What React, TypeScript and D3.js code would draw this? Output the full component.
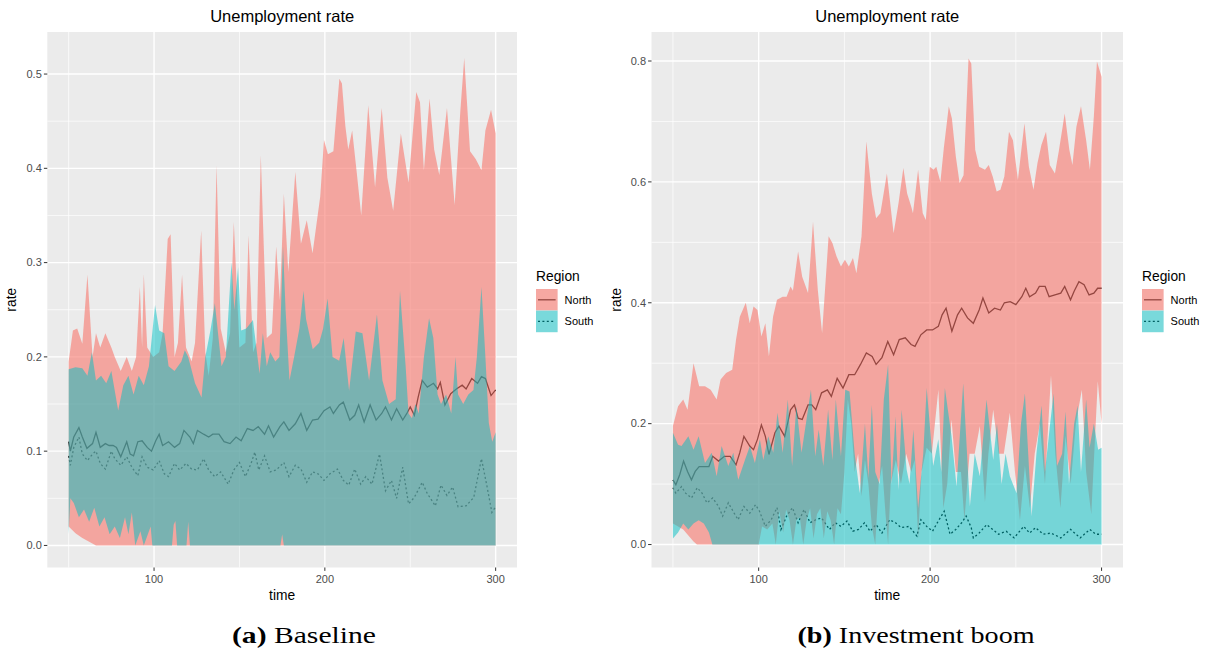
import * as d3 from 'd3'

type Pt = [number, number]

// axis ticks
const timeTicks = [100, 200, 300]
const timeMinor = [50, 150, 250]
const baseRateTicks = [0, 0.1, 0.2, 0.3, 0.4, 0.5]
const baseRateMinor = [0.05, 0.15, 0.25, 0.35, 0.45]
const boomRateTicks = [0, 0.2, 0.4, 0.6, 0.8]
const boomRateMinor = [0.1, 0.3, 0.5, 0.7]
const regions = ['North', 'South']

// (a) Baseline  [time, rate]
const baseNorthHi: Pt[] = [[50,0.195],[52.5,0.228],[55,0.23],[58,0.214],[61,0.287],[64,0.2],[66,0.225],[68.5,0.21],[71.5,0.225],[75,0.21],[77,0.2],[80.5,0.185],[84,0.2],[87,0.185],[89.5,0.2],[91.7,0.274],[93,0.21],[94,0.288],[96,0.21],[99.5,0.2],[103,0.205],[105,0.225],[108,0.325],[109.7,0.33],[112,0.2],[114,0.215],[116.4,0.287],[118.7,0.21],[122,0.195],[124,0.215],[127.6,0.334],[130,0.205],[132,0.18],[134.4,0.22],[136.6,0.403],[139,0.23],[142,0.205],[144.5,0.225],[146.7,0.343],[150,0.21],[153.5,0.215],[155.3,0.329],[158,0.205],[160,0.215],[162.5,0.414],[166,0.22],[169,0.225],[171.5,0.317],[173.7,0.26],[176,0.373],[178.6,0.29],[182.7,0.396],[186,0.32],[189.4,0.345],[192.8,0.31],[197.3,0.37],[199.5,0.43],[201.8,0.415],[205,0.418],[208.5,0.495],[210,0.49],[212,0.445],[213.7,0.42],[216,0.44],[218.7,0.395],[221.3,0.35],[225.4,0.467],[229.4,0.38],[233.3,0.464],[236.6,0.39],[240,0.355],[244.5,0.437],[249,0.385],[253.5,0.481],[255.7,0.47],[258,0.398],[261.3,0.474],[264,0.42],[267,0.393],[271.5,0.464],[276,0.361],[279.3,0.46],[281.6,0.517],[285,0.418],[288.3,0.41],[291.7,0.398],[294,0.44],[297.3,0.462],[300,0.437]]
const baseNorthLo: Pt[] = [[50,0.02],[54,0.013],[58,0.008],[62,0.004],[66,0],[300,0]]
const baseNorthMid: Pt[] = [[50,0.11],[51,0.1],[53,0.115],[56,0.125],[58,0.115],[60.7,0.103],[64,0.108],[66,0.12],[68.5,0.104],[71.5,0.108],[73.7,0.106],[76,0.106],[78,0.104],[80.5,0.094],[84,0.11],[86,0.097],[88,0.095],[90.5,0.11],[93,0.111],[96,0.104],[98.5,0.1],[101,0.111],[103,0.118],[105,0.106],[108.5,0.11],[112,0.104],[115,0.108],[117.5,0.122],[121,0.115],[123,0.108],[125.4,0.122],[129,0.118],[132,0.115],[134.4,0.118],[138,0.118],[141,0.11],[144.5,0.108],[148,0.115],[151,0.111],[154.6,0.124],[158,0.122],[161,0.126],[164.7,0.118],[167,0.127],[170,0.115],[173.7,0.126],[176,0.131],[179,0.122],[182.7,0.129],[186,0.14],[189.4,0.122],[192.8,0.133],[196,0.134],[199.5,0.143],[203,0.147],[205,0.14],[208.5,0.149],[210.8,0.152],[214.6,0.133],[217.5,0.138],[219.8,0.149],[223,0.131],[226.5,0.149],[230,0.133],[233.3,0.14],[235.5,0.147],[239,0.133],[242,0.145],[245.6,0.133],[248,0.14],[250,0.147],[252.4,0.138],[254.6,0.157],[257,0.175],[260,0.168],[263.6,0.172],[266,0.166],[267.6,0.173],[270.3,0.149],[273.7,0.161],[277,0.166],[280.4,0.17],[282.7,0.166],[286,0.177],[289.4,0.172],[291.7,0.179],[294,0.177],[297.3,0.159],[300,0.165]]
const baseSouthHi: Pt[] = [[50,0.187],[54,0.189],[58,0.188],[61,0.18],[63.6,0.205],[66,0.175],[69,0.18],[72,0.172],[75,0.185],[79,0.143],[82,0.17],[85,0.18],[88,0.16],[91,0.18],[94,0.17],[97,0.19],[100.6,0.255],[103,0.228],[106,0.225],[108.5,0.19],[112,0.185],[116,0.195],[118,0.207],[120,0.2],[124,0.172],[127.8,0.157],[130,0.2],[133,0.228],[135.6,0.257],[139.5,0.19],[142,0.2],[145.3,0.3],[147,0.25],[149.2,0.295],[151,0.228],[154,0.23],[157.9,0.239],[161.8,0.182],[163.7,0.225],[166,0.19],[168,0.205],[171,0.195],[173.4,0.2],[175.5,0.317],[177,0.25],[179.3,0.175],[182,0.2],[185.1,0.23],[187.5,0.27],[189,0.24],[192.9,0.208],[196.7,0.215],[199,0.23],[201.6,0.262],[204.5,0.2],[208.4,0.196],[211,0.22],[214.2,0.164],[218.1,0.227],[222,0.225],[225.9,0.175],[230.5,0.245],[233.7,0.175],[237.6,0.15],[241.5,0.155],[244,0.27],[247.3,0.19],[249,0.14],[251,0.135],[253,0.15],[255,0.14],[258,0.2],[261,0.241],[263.5,0.22],[266,0.16],[268,0.15],[271,0.16],[274,0.14],[276.5,0.2],[278,0.16],[281,0.15],[284,0.16],[287,0.165],[289,0.2],[291.7,0.274],[294,0.2],[296,0.13],[298,0.11],[300,0.12]]
const baseSouthLo: Pt[] = [[50,0.012],[51,0.05],[53,0.045],[56,0.03],[59,0.038],[62,0.025],[65,0.04],[68,0.02],[71,0.03],[74,0.012],[77,0.02],[80,0.008],[83,0.03],[85,0.012],[87,0.035],[89,0],[92,0.015],[94,0],[98,0.02],[99,0],[110.5,0],[111.5,0.022],[112.5,0.026],[113.5,0],[119,0],[120,0.025],[121,0],[174,0],[175,0.012],[176,0],[300,0]]
const baseSouthMid: Pt[] = [[50,0.095],[51,0.085],[53,0.104],[56,0.115],[58,0.097],[61,0.09],[64,0.097],[66,0.1],[68.5,0.087],[71.5,0.081],[75,0.1],[77,0.092],[80.5,0.085],[84,0.094],[87,0.083],[90.5,0.074],[93,0.094],[96,0.083],[99.5,0.08],[103,0.09],[106,0.076],[108.5,0.073],[112,0.087],[115,0.08],[118.7,0.087],[122,0.081],[125.4,0.08],[129,0.092],[132,0.08],[135.5,0.073],[139,0.078],[143.4,0.065],[146.7,0.08],[150,0.088],[153.5,0.073],[156.8,0.087],[159,0.099],[161.3,0.08],[164.7,0.095],[168,0.078],[171.5,0.08],[176,0.088],[179,0.073],[182.7,0.085],[186,0.081],[189.4,0.067],[192.8,0.078],[196,0.076],[199.5,0.069],[203,0.076],[207.4,0.081],[210.8,0.069],[214,0.064],[217.5,0.081],[221,0.065],[224,0.073],[227.6,0.065],[232,0.097],[235.5,0.058],[239,0.069],[242,0.05],[245.6,0.083],[249,0.044],[252.4,0.051],[257,0.067],[260,0.055],[264.7,0.042],[268,0.064],[271.5,0.053],[274.8,0.062],[278,0.041],[282.7,0.042],[287.2,0.051],[291.7,0.092],[295,0.062],[297.8,0.035],[300,0.041]]

// (b) Investment boom  [time, rate]
const boomNorthHi: Pt[] = [[50,0.196],[53,0.229],[56,0.24],[58.5,0.223],[62,0.3],[65.3,0.262],[68.7,0.262],[72,0.256],[75.5,0.24],[77.8,0.273],[81,0.284],[84.6,0.289],[86.8,0.339],[89,0.377],[92.5,0.4],[94.8,0.366],[97,0.394],[99.3,0.388],[101.6,0.344],[103.9,0.366],[106,0.311],[108.4,0.377],[110.7,0.405],[114,0.41],[116.3,0.41],[118.6,0.427],[120,0.42],[123,0.485],[125.4,0.443],[128.8,0.416],[131.7,0.534],[134.5,0.421],[137,0.35],[140.8,0.51],[143,0.499],[145.4,0.477],[148,0.46],[150.3,0.471],[152.6,0.46],[155,0.474],[157,0.449],[160,0.51],[162.8,0.667],[166,0.581],[168.5,0.54],[171,0.548],[174.8,0.614],[178.7,0.515],[181.6,0.565],[184.4,0.623],[186.6,0.581],[189,0.559],[190,0.548],[193,0.62],[195.7,0.548],[197.5,0.537],[199.8,0.625],[202,0.62],[203.6,0.625],[206,0.6],[208,0.656],[210.9,0.725],[212.7,0.705],[215,0.642],[217.2,0.598],[219.5,0.611],[222.4,0.804],[224,0.796],[226.3,0.653],[228.6,0.625],[232,0.62],[234.2,0.628],[236.5,0.609],[238.8,0.584],[241,0.587],[243.3,0.609],[246,0.683],[248.3,0.669],[251.2,0.603],[255,0.697],[257.6,0.625],[260.3,0.587],[262.6,0.631],[264.9,0.661],[267.6,0.683],[269.8,0.628],[272.8,0.614],[275,0.65],[278.5,0.713],[281.2,0.653],[283,0.628],[285.3,0.691],[288,0.725],[291,0.669],[293.2,0.62],[295.5,0.708],[297.3,0.799],[300,0.774]]
const boomNorthLo: Pt[] = [[50,0.035],[53,0.03],[56,0.025],[59,0.015],[62,0.005],[64,0],[100,0],[102,0.03],[105,0.025],[108,0.035],[110,0],[112,0.055],[114.3,0.02],[116,0.058],[118,0.04],[120,0],[122,0.04],[124,0.045],[126,0],[128,0.04],[130,0.06],[132,0.01],[134,0.05],[136,0.06],[138,0.01],[140,0.055],[142,0.04],[144,0],[146,0.06],[148,0.05],[150,0.12],[152,0.24],[154,0.2],[156,0.12],[158,0.15],[160,0.08],[162,0.14],[164,0.1],[166,0.03],[168,0],[170,0.1],[172,0.13],[174,0.05],[175.5,0],[177,0.1],[180,0.14],[183,0.1],[186,0.15],[189,0.12],[191,0.14],[193,0.01],[195,0.12],[198,0.16],[201,0.15],[204.8,0.256],[207.7,0.06],[210,0.1],[212.5,0.207],[215,0.12],[218,0.12],[220,0.04],[223,0.15],[226,0.15],[229,0.196],[232,0.07],[234,0.15],[236.8,0.223],[240,0.15],[243,0.15],[246.5,0.218],[249.5,0.12],[252.4,0.04],[255.3,0.13],[258.2,0.06],[261,0.15],[264,0.2],[267,0.1],[270.5,0.28],[273,0.15],[276,0.06],[279,0.18],[282,0.1],[285,0.2],[288.5,0.256],[291,0.12],[294,0.05],[297.8,0.27],[300,0.2]]
const boomNorthMid: Pt[] = [[50,0.107],[51.7,0.099],[54,0.116],[56.2,0.138],[58.5,0.121],[60.8,0.107],[63,0.121],[65.3,0.129],[68.7,0.129],[71,0.129],[73.2,0.146],[76.6,0.138],[80,0.146],[83.4,0.146],[86.8,0.132],[89,0.152],[91.4,0.179],[94.8,0.163],[97,0.157],[99.3,0.174],[101.6,0.198],[103.9,0.179],[106,0.149],[109.5,0.185],[111.8,0.196],[115.2,0.179],[118.6,0.223],[120.9,0.231],[123,0.209],[125.4,0.207],[128.8,0.231],[131,0.231],[133.3,0.223],[136.7,0.251],[140.1,0.256],[142.4,0.245],[145.8,0.275],[149.2,0.259],[152.6,0.281],[156,0.281],[159.4,0.298],[162.8,0.317],[166.2,0.311],[168.5,0.298],[171.9,0.309],[175.3,0.336],[178.7,0.314],[182,0.339],[185.5,0.342],[188.9,0.331],[191.2,0.328],[194.6,0.347],[198,0.355],[201.4,0.355],[204.8,0.361],[207,0.38],[209.3,0.391],[212.7,0.353],[216,0.38],[218.4,0.391],[221.8,0.375],[225.2,0.366],[228.6,0.388],[230.8,0.408],[234.2,0.383],[237.6,0.391],[241,0.388],[243.3,0.4],[246.7,0.402],[250,0.397],[253.5,0.41],[255.8,0.424],[258,0.41],[261.5,0.416],[263.7,0.427],[267.1,0.427],[269.4,0.41],[272.8,0.413],[276.2,0.416],[278.5,0.427],[281.9,0.405],[284,0.419],[286.8,0.435],[289.8,0.43],[292.7,0.413],[295.5,0.416],[297.7,0.424],[300,0.424]]
const boomSouthHi: Pt[] = [[50,0.185],[53,0.165],[55,0.163],[59,0.179],[62,0.157],[65,0.179],[68.7,0.135],[72.6,0.152],[75.5,0.113],[78.4,0.163],[82.3,0.13],[85.2,0.152],[88.1,0.107],[92,0.14],[94.9,0.163],[97.8,0.135],[100.7,0.174],[102.7,0.14],[105.6,0.179],[108.5,0.152],[111,0.218],[114,0.152],[117,0.24],[119.5,0.13],[122,0.229],[125,0.152],[128.5,0.218],[130.5,0.256],[133,0.146],[135,0.19],[137.7,0.13],[140.5,0.223],[143,0.14],[145,0.24],[148,0.146],[150.5,0.256],[153,0.253],[156,0.15],[159,0.085],[162,0.2],[164,0.11],[166,0.231],[168,0.12],[170.5,0.1],[173,0.24],[175.5,0.298],[177.5,0.1],[179.8,0.212],[181.5,0.09],[183.4,0.223],[186.3,0.124],[188,0.1],[190.2,0.19],[193,0.06],[196,0.15],[198,0.259],[201.8,0.13],[204.8,0.174],[206.5,0.12],[208.6,0.259],[212.5,0.179],[215.4,0.096],[219.3,0.267],[223.2,0.063],[226,0.15],[229,0.113],[232.9,0.24],[236.8,0.14],[239,0.2],[241.7,0.1],[244,0.15],[246.5,0.113],[250.4,0.085],[253,0.2],[255.3,0.25],[259.2,0.047],[262,0.15],[265,0.23],[267,0.12],[270,0.2],[272,0.25],[274,0.13],[277,0.15],[279,0.22],[281,0.1],[284,0.2],[286,0.23],[288,0.12],[291,0.24],[293,0.16],[295.5,0.2],[298,0.157],[300,0.16]]
const boomSouthLo: Pt[] = [[50,0.01],[53,0.02],[56,0.035],[59,0.025],[62,0.035],[65,0.04],[68,0.035],[71,0.02],[73,0],[300,0]]
const boomSouthMid: Pt[] = [[50,0.094],[51.7,0.085],[55,0.096],[57.4,0.085],[60.8,0.077],[64.2,0.094],[67,0.085],[69.8,0.069],[73.2,0.077],[76.6,0.063],[79,0.047],[82.3,0.069],[85.7,0.052],[88,0.041],[91.4,0.063],[94.8,0.052],[98.2,0.066],[100.5,0.055],[103.9,0.03],[107.3,0.041],[110.7,0.061],[113,0.025],[116.3,0.047],[119.7,0.061],[123,0.036],[126.5,0.058],[130,0.036],[133.3,0.041],[136.7,0.044],[141.3,0.025],[144.7,0.036],[148,0.03],[151.5,0.039],[154.9,0.022],[158.3,0.025],[161.7,0.036],[165,0.022],[168.5,0.033],[171.9,0.019],[176.4,0.041],[179.8,0.036],[183.2,0.028],[187.8,0.03],[192.3,0.014],[194.6,0.041],[198,0.03],[201.4,0.022],[204.8,0.039],[208.2,0.055],[211.6,0.017],[215,0.025],[218.4,0.036],[221,0.047],[224,0.028],[225.2,0.011],[228.6,0.019],[233,0.033],[236.5,0.025],[239.9,0.017],[244.4,0.022],[249,0.011],[254.6,0.03],[258,0.019],[261.5,0.028],[266,0.017],[270.5,0.019],[276.2,0.011],[281.9,0.025],[287.5,0.011],[293.2,0.025],[296.6,0.017],[300,0.017]]

const NORTH = '#F8766D'
const SOUTH = '#00BFC4'
const SANS = '"Liberation Sans", Arial, Helvetica, sans-serif'
const SERIF = '"Liberation Serif", "Times New Roman", serif'

interface PanelProps {
  left: number
  right: number
  yDomain: [number, number]
  rateTicks: number[]
  rateMinor: number[]
  northHi: Pt[]; northLo: Pt[]; northMid: Pt[]
  southHi: Pt[]; southLo: Pt[]; southMid: Pt[]
}

const top = 32
const bottom = 567.5

function Panel(p: PanelProps) {
  const x = d3.scaleLinear().domain([37.5, 312.5]).range([p.left, p.right])
  const y = d3.scaleLinear().domain(p.yDomain).range([bottom, top])
  const line = d3.line<Pt>().x(d => x(d[0])).y(d => y(d[1]))
  const band = (hi: Pt[], lo: Pt[]) => line([...hi, ...lo.slice().reverse()]) + 'Z'
  const cx = (p.left + p.right) / 2
  const lx = p.right + 19
  const key = 21.6

  return (
    <g>
      <text x={cx} y={22} textAnchor="middle" fontSize={16.5} fill="#000">Unemployment rate</text>
      <rect x={p.left} y={top} width={p.right - p.left} height={bottom - top} fill="#EBEBEB" />
      {timeMinor.map(t => <line key={'xm' + t} x1={x(t)} x2={x(t)} y1={top} y2={bottom} stroke="#fff" strokeWidth={0.7} />)}
      {p.rateMinor.map(v => <line key={'ym' + v} x1={p.left} x2={p.right} y1={y(v)} y2={y(v)} stroke="#fff" strokeWidth={0.7} />)}
      {timeTicks.map(t => <line key={'xM' + t} x1={x(t)} x2={x(t)} y1={top} y2={bottom} stroke="#fff" strokeWidth={1.4} />)}
      {p.rateTicks.map(v => <line key={'yM' + v} x1={p.left} x2={p.right} y1={y(v)} y2={y(v)} stroke="#fff" strokeWidth={1.4} />)}

      {/* lines sit under the ribbons, so they take the ribbon tint */}
      <path d={line(p.northMid) ?? ''} fill="none" stroke="#000" strokeWidth={1.3} />
      <path d={line(p.southMid) ?? ''} fill="none" stroke="#000" strokeWidth={1.3} strokeDasharray="2,2.4" />
      <path d={band(p.northHi, p.northLo)} fill={NORTH} fillOpacity={0.6} />
      <path d={band(p.southHi, p.southLo)} fill={SOUTH} fillOpacity={0.5} />

      {timeTicks.map(t => (
        <g key={'xt' + t}>
          <line x1={x(t)} x2={x(t)} y1={bottom} y2={bottom + 3.4} stroke="#333" strokeWidth={1} />
          <text x={x(t)} y={bottom + 15} textAnchor="middle" fontSize={11} fill="#4D4D4D">{t}</text>
        </g>
      ))}
      {p.rateTicks.map(v => (
        <g key={'yt' + v}>
          <line x1={p.left - 3.4} x2={p.left} y1={y(v)} y2={y(v)} stroke="#333" strokeWidth={1} />
          <text x={p.left - 5.5} y={y(v) + 3.8} textAnchor="end" fontSize={11} fill="#4D4D4D">{d3.format('.1f')(v)}</text>
        </g>
      ))}
      <text x={cx} y={600} textAnchor="middle" fontSize={13.8} fill="#000">time</text>
      <text transform={`translate(${p.left - 31},${(top + bottom) / 2}) rotate(-90)`} textAnchor="middle" fontSize={13.8} fill="#000">rate</text>

      <text x={lx} y={281} fontSize={13.8} fill="#000">Region</text>
      {regions.map((r, i) => {
        const ky = 289 + i * key
        return (
          <g key={r}>
            <rect x={lx} y={ky} width={key} height={key} fill="#F2F2F2" />
            <line x1={lx + 2} x2={lx + key - 2} y1={ky + key / 2} y2={ky + key / 2} stroke="#000" strokeWidth={1.3}
              strokeDasharray={i === 1 ? '2,2.4' : undefined} />
            <rect x={lx} y={ky} width={key} height={key} fill={i === 0 ? NORTH : SOUTH} fillOpacity={i === 0 ? 0.6 : 0.5} />
            <text x={lx + key + 7} y={ky + key / 2 + 3.8} fontSize={11} fill="#000">{r}</text>
          </g>
        )
      })}
    </g>
  )
}

function Caption({ cx, tag, label, width }: { cx: number; tag: string; label: string; width: number }) {
  return (
    <text x={cx} y={643} textAnchor="middle" fontSize={24} fontFamily={SERIF} fill="#000"
      textLength={width} lengthAdjust="spacingAndGlyphs">
      <tspan fontWeight="bold">{tag}</tspan>
      <tspan fontWeight="normal">{' ' + label}</tspan>
    </text>
  )
}

export default function App() {
  return (
    <svg width={1207} height={657} style={{ position: 'absolute', left: 0, top: 0, background: '#fff' }}
      fontFamily={SANS}>
      <Panel left={47.3} right={517} yDomain={[-0.0234, 0.5446]} rateTicks={baseRateTicks} rateMinor={baseRateMinor}
        northHi={baseNorthHi} northLo={baseNorthLo} northMid={baseNorthMid}
        southHi={baseSouthHi} southLo={baseSouthLo} southMid={baseSouthMid} />
      <Panel left={651.5} right={1123} yDomain={[-0.038, 0.848]} rateTicks={boomRateTicks} rateMinor={boomRateMinor}
        northHi={boomNorthHi} northLo={boomNorthLo} northMid={boomNorthMid}
        southHi={boomSouthHi} southLo={boomSouthLo} southMid={boomSouthMid} />
      <Caption cx={304} tag="(a)" label="Baseline" width={144} />
      <Caption cx={916} tag="(b)" label="Investment boom" width={237} />
    </svg>
  )
}
